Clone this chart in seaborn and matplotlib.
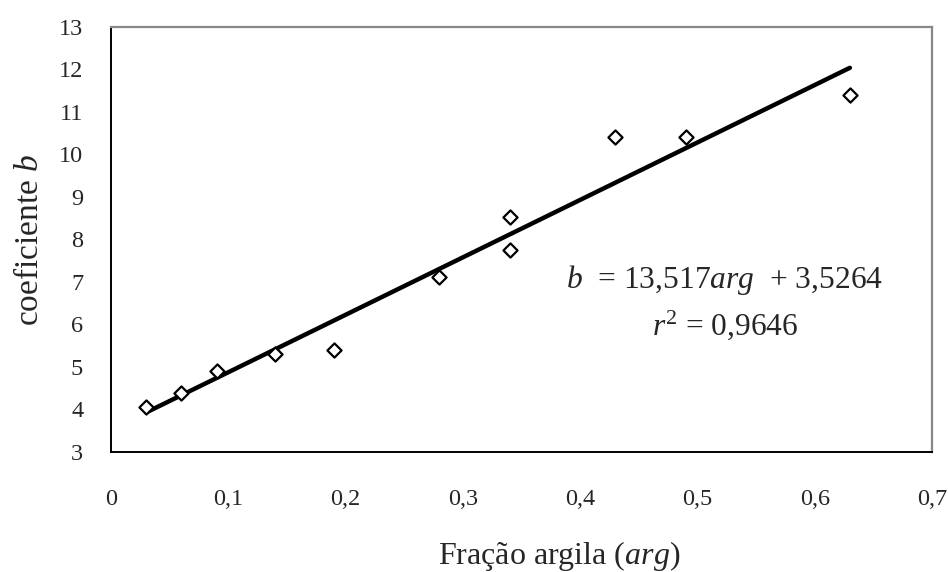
import matplotlib
matplotlib.use('Agg')
import seaborn as sns
import pandas as pd
import matplotlib.pyplot as plt

# measured points (clay fraction vs b coefficient)
arg = [0.03, 0.06, 0.09, 0.14, 0.19, 0.28, 0.34, 0.34, 0.43, 0.49, 0.63]
coef_b = [4.05, 4.38, 4.90, 5.30, 5.40, 7.12, 8.52, 7.75, 10.40, 10.40, 11.40]

# trend line ends, as drawn
fit_x = [0.03, 0.63]
fit_y = [3.93, 12.04]

x_ticks = [0, 0.1, 0.2, 0.3, 0.4, 0.5, 0.6, 0.7]
x_tick_labels = ['0', '0,1', '0,2', '0,3', '0,4', '0,5', '0,6', '0,7']
y_ticks = [3, 4, 5, 6, 7, 8, 9, 10, 11, 12, 13]

eq_text = r'$b$  = 13,517$arg$  + 3,5264'
r2_text = r'$r^{2}$ = 0,9646'


def main():
    sns.set_style('white')
    plt.rcParams['font.family'] = ['Liberation Serif', 'DejaVu Serif']
    plt.rcParams['mathtext.fontset'] = 'custom'
    plt.rcParams['mathtext.rm'] = 'Liberation Serif'
    plt.rcParams['mathtext.it'] = 'Liberation Serif:italic'

    df = pd.DataFrame({'arg': arg, 'b': coef_b})
    df_fit = pd.DataFrame({'arg': fit_x, 'b': fit_y})

    fig = plt.figure(figsize=(9.48, 5.72), dpi=100)
    ax = fig.add_axes([0.1171, 0.2098, 0.866, 0.743])

    sns.lineplot(data=df_fit, x='arg', y='b', ax=ax, color='black', linewidth=3.2, zorder=2)
    sns.scatterplot(data=df, x='arg', y='b', ax=ax, marker='D', s=52,
                    facecolor='white', edgecolor='black', linewidth=1.6, zorder=3)

    ax.set_xlim(0, 0.7)
    ax.set_ylim(3, 13)
    ax.set_xticks(x_ticks)
    ax.set_xticklabels(x_tick_labels)
    ax.set_yticks(y_ticks)
    ax.tick_params(axis='both', direction='out', length=7, width=1.2, color='black',
                   labelsize=17.5)
    ax.tick_params(axis='x', pad=20)
    ax.tick_params(axis='y', pad=13)

    for side in ['left', 'bottom']:
        ax.spines[side].set_color('black')
        ax.spines[side].set_linewidth(1.4)
    for side in ['top', 'right']:
        ax.spines[side].set_color('#888888')
        ax.spines[side].set_linewidth(1.6)

    ax.set_xlabel('Fração argila ($arg)$', fontsize=23)
    ax.xaxis.set_label_coords(0.5457, -0.205)
    ax.set_ylabel('coeficiente $b$', fontsize=24, labelpad=10)

    ax.text(0.5235, 7.04, eq_text, fontsize=22.7, ha='center', va='center')
    ax.text(0.5235, 5.99, r2_text, fontsize=22.7, ha='center', va='center')

    plt.savefig('out.png', dpi=100)
    plt.close()


if __name__ == "__main__":
    main()
